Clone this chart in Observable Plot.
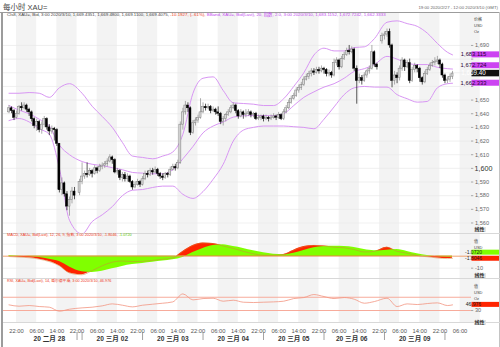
<!DOCTYPE html>
<html><head><meta charset="utf-8">
<script src="https://cdn.jsdelivr.net/npm/d3@7"></script>
<script src="https://cdn.jsdelivr.net/npm/@observablehq/plot@0.6"></script>
<style>
html,body{margin:0;padding:0;background:#fff;}
#wrap{position:relative;width:500px;height:347px;overflow:hidden;background:#fff;font-family:"Liberation Sans","Noto Sans CJK SC",sans-serif;}
#wrap > *{position:absolute;}
.lbl{white-space:nowrap;line-height:1;}
</style></head><body><div id="wrap"></div>
<script>
// ---------- DATA ----------
const titleText = "每小时 XAU=";
const rangeText = "19:00 2020/2/27 - 12:00 2020/3/10 (GMT)";
const sessionStarts = ["2020-02-27T19:00Z", "2020-03-01T23:00Z", "2020-03-08T23:00Z"];
const sessionBars = [27, 119, 29];
const sessionOpens = [1641, 1582, 1693];

const close = [
 1644,1642,1637,1640,1645,1644,1646,1643,1641,1636,1631,1634,1628,1632,1636,1630,1627,1629,1628,1618,1584,1589,1581,1572,1577,1583,1580,
 1590,1594,1596,1595,1598,1596,1600,1598,1601,1602,
 1603,1605,1608,1606,1597,1598,1593,1595,1592,1594,
 1590,1586,1588,1590,1588,1592,1596,1595,1598,1597,
 1599,1596,1594,1593,1596,1595,1599,1601,1600,1604,
 1632,1641,1646,1644,1626,1633,1635,1637,1641,1645,
 1644,1645,1642,1643,1641,1640,1634,1636,1639,1641,
 1644,1646,1642,1638,1641,1639,1640,1641,1639,1640,
 1636,1637,1638,1636,1637,1636,1637,1638,1637,1639,
 1636,1641,1644,1648,1651,1653,1657,1659,1661,1665,
 1667,1669,1671,1670,1672,1671,1673,1672,1669,1670,
 1668,1677,1679,1674,1680,1683,1686,1685,1687,1673,
 1664,1666,1664,1668,1671,1673,1685,1676,1674,
 1697,1698,1700,1690,1664,1668,1666,1673,1679,1674,
 1677,1664,1672,1675,1673,1666,1663,1669,1672,1675,
 1677,1678,1679,1676,1668,1664,1665,1667,1669.4
];
const high = [
 1646,1645,1643,1642,1646,1648,1648,1647,1644,1642,1637,1636,1635,1634,1638,1637,1632,1631,1630,1629,1618,1593,1590,1583,1579,1586,1586,
 1592,1604,1598,1604,1600,1599,1602,1601,1603,1604,
 1605,1607,1610,1609,1607,1600,1599,1597,1597,1596,
 1595,1591,1590,1592,1591,1594,1598,1598,1600,1600,
 1601,1600,1597,1596,1597,1597,1601,1603,1603,1606,
 1634,1644,1649,1648,1645,1635,1637,1639,1651,1648,
 1647,1647,1646,1645,1644,1645,1641,1638,1640,1643,
 1646,1648,1647,1643,1643,1642,1643,1643,1642,1641,
 1641,1639,1639,1639,1639,1638,1639,1640,1639,1641,
 1640,1643,1646,1650,1653,1655,1659,1661,1663,1667,
 1669,1671,1673,1673,1674,1674,1675,1674,1673,1672,
 1671,1680,1681,1680,1682,1685,1688,1690,1689,1688,
 1675,1669,1668,1670,1672,1675,1690,1686,1677,
 1699,1700,1702,1702,1691,1671,1670,1675,1681,1680,
 1679,1680,1674,1677,1676,1674,1667,1671,1674,1677,
 1679,1681,1682,1680,1677,1669,1667,1669,1671
];
const low = [
 1640,1640,1635,1636,1639,1642,1643,1641,1638,1634,1629,1627,1626,1625,1630,1628,1624,1625,1620,1616,1582,1580,1579,1569,1565,1574,1577,
 1580,1588,1592,1593,1594,1593,1595,1596,1597,1599,
 1600,1601,1604,1603,1596,1595,1591,1590,1590,1590,
 1589,1584,1585,1587,1586,1587,1591,1593,1594,1595,
 1596,1594,1592,1591,1592,1593,1594,1598,1598,1599,
 1603,1628,1639,1641,1624,1625,1631,1633,1636,1640,
 1642,1643,1640,1641,1639,1638,1632,1631,1634,1638,
 1640,1643,1640,1636,1637,1636,1637,1638,1637,1637,
 1635,1635,1635,1634,1635,1634,1635,1636,1635,1636,
 1635,1635,1640,1643,1647,1650,1652,1655,1657,1660,
 1664,1665,1667,1668,1669,1669,1670,1669,1667,1667,
 1666,1667,1675,1672,1673,1679,1682,1683,1684,1671,
 1647,1662,1661,1663,1666,1669,1672,1674,1672,
 1691,1694,1696,1688,1659,1661,1662,1664,1671,1671,
 1673,1662,1663,1670,1670,1663,1661,1662,1668,1671,
 1674,1675,1676,1673,1666,1662,1662,1663,1665
];

// indicator readings, one every 4th bar plus the last bar
const bbUpper = [1655,1655,1655.5,1655,1652,1659,1662,1655,1645.5,1638,1630,1619,1609,1608,1607,1609,1612,1625,1655,1666,1667,1657,1648,1647.5,1647,1646,1646,1651,1660,1670,1683,1688,1686,1686,1688.5,1689,1695,1707,1708,1706,1704,1699,1691.5,1685,1683.115];
const bbMid = [1646,1642.6,1640,1636,1631,1617,1610,1605,1603,1602,1600.5,1599,1597,1596.5,1596,1596,1599,1607,1616,1626,1631,1634,1637.5,1638.5,1638.7,1638.7,1638.5,1640,1646,1652,1656,1659.5,1662,1666,1671,1673,1676,1682,1680,1677,1676,1676,1674,1673,1672.724];
const bbLower = [1635,1636.5,1634,1629,1625,1600,1562,1552,1561,1566,1572,1580,1584,1584.5,1586,1587,1587,1581,1578,1583,1592,1603,1620,1628,1630,1631,1631,1631,1630.5,1630,1629,1636,1645,1654,1659,1660,1659.5,1659.5,1654,1651,1648.5,1649,1659,1662,1662.333];
const macdLine = [-0.3,-0.8,-1.3,-2.5,-4.5,-8,-14,-15.5,-12,-8,-5,-4,-4.5,-4.3,-3.5,-2.5,-1.5,4,9,11,10.5,8.5,6.5,4,2,0.8,0.8,1.5,5,8,9,8.5,7.5,7,5.5,3.5,4,7.5,4,2.5,0.5,-0.5,-1.5,-2,-1.8046];
const macdSignal = [0.5,0.2,-0.3,-1.2,-2.5,-4.5,-9,-13,-13.5,-12.5,-10.5,-8.5,-7,-6,-5,-4,-3,-1,3,6.5,9,9.5,8,6.5,4.5,2.8,1.6,1.2,2.5,4.8,7,8,8.2,8,7.2,5.5,4.5,5,5.5,4,2,0.5,-0.3,-0.9,-1.072];
const rsiLine = [47,43,45,42,40,28,34,38,40,44,50,46,41,46,49,52,56,80,62,66,67,58,61,55,54,55,56,58,66,69,78,72,66,69,64,52,57,67,42,50,48,51,53,45,46.976];

const dayDates = ["2020-02-28","2020-03-02","2020-03-03","2020-03-04","2020-03-05","2020-03-06","2020-03-09"];
const dayLabels = ["20 二月 28","20 三月 02","20 三月 03","20 三月 04","20 三月 05","20 三月 06","20 三月 09"];
const sepTimes = ["2020-02-28T22:00Z","2020-03-02T00:00Z","2020-03-03T00:00Z","2020-03-04T00:00Z","2020-03-05T00:00Z","2020-03-06T00:00Z","2020-03-09T00:00Z","2020-03-10T00:00Z"];
const priceTicks = [1560,1570,1580,1590,1600,1610,1620,1630,1640,1650,1660,1670,1680,1690];

const legendMain = ["Cls8, XAU=, Bid, 3:00 2020/3/10, 1,669.4351, 1,669.4800, 1,669.1100, 1,669.4075, ", "-10.1927, (-.61%), ", "BBand, XAU=, Bid(Last), 20, 指数, 2.0, 3:00 2020/3/10, 1,683.1152, 1,672.7242, 1,662.3333"];
const legendMacd = ["MACD, XAU=, Bid(Last), 12, 26, 9, 指数, 3:00 2020/3/10, -1.8046, ", "-1.0720"];
const legendRsi = "RSI, XAU=, Bid(Last), 14, 威尔德平滑, 3:00 2020/3/10, 46.976";

// ---------- BUILD ----------
const FONT = '"Liberation Sans","Noto Sans CJK SC",sans-serif';
const wrap = document.getElementById("wrap");
function addDiv(css, html){const d=document.createElement("div");d.className="lbl";d.style.cssText=css;d.innerHTML=html;wrap.appendChild(d);return d;}

const HOUR = 3600e3;
const sessions = sessionStarts.map((s,i)=>({t0:new Date(s), n:sessionBars[i], open:sessionOpens[i]}));
let acc = 0; for (const s of sessions){ s.slot0 = acc; acc += s.n + 1; }
function sessionOf(t){ let r=null, idx=-1; sessions.forEach((s,i)=>{ if (t >= +s.t0){ r=s; idx=i; } }); return [r, idx]; }
function slotOf(t){ t=+new Date(t); const [s,i]=sessionOf(t); const v=s.slot0+(t-s.t0)/HOUR; return i===sessions.length-1 ? v : Math.min(v, s.slot0+s.n); }
function inSession(t){ const [s,i]=sessionOf(t); if(!s) return false; return i===sessions.length-1 || (t-s.t0)/HOUR <= s.n; }

const bars=[]; let k=0;
for (const s of sessions) for (let j=0;j<s.n;j++,k++){
  const o = j===0 ? s.open : close[k-1];
  bars.push({slot:s.slot0+j, o, h:high[k], l:low[k], c:close[k], up: close[k] >= o});
}
const sampleIdx = d3.range(0, bars.length-1, 4).concat([bars.length-1]);
const ind = sampleIdx.map((b,i)=>({slot:bars[b].slot, upper:bbUpper[i], mid:bbMid[i], lower:bbLower[i], macd:macdLine[i], signal:macdSignal[i], rsi:rsiLine[i]}));

const fmtH = d3.utcFormat("%H:%M");
const tickTimes = d3.range(Date.UTC(2020,1,27,22), Date.UTC(2020,2,10,7), 8*HOUR).filter(inSession).map(t=>({slot:slotOf(t), label:fmtH(new Date(t))}));
const shade = tickTimes.map((d,i)=>({x1:d.slot, x2: i+1<tickTimes.length ? tickTimes[i+1].slot : d.slot+8})).filter((d,i)=>i%2===0);
const days = dayDates.map((d,i)=>{const a=new Date(d+"T00:00Z"); const b=new Date(+a+24*HOUR); return {slot:(slotOf(a)+slotOf(b))/2, label:dayLabels[i]};});
const seps = sepTimes.map(t=>({slot:slotOf(t)}));

const XD = [-2.18, 183.53];
const YMAIN = [1552.3, 1713.4];
const common = {width:500, marginLeft:3, marginRight:29, marginTop:0, marginBottom:0,
  x:{domain:XD, axis:null}, style:{background:"transparent", fontFamily:FONT, overflow:"visible"}};
const bandColor = "#d896f3";
const fmtP = d3.format(",");
const bodyEnd = d => Math.abs(d.c-d.o) < 0.5 ? d.o + 0.5 : d.c;

// price boxes on the right axis (values from the data), used to hide the tick labels they cover
const mainBoxes = [
  {value:bbUpper[bbUpper.length-1], label:"1,683.115", bg:"#cc44f2", fg:"#2a0033", h:6, fs:5.8},
  {value:bbMid[bbMid.length-1], label:"1,672.724", bg:"#cc44f2", fg:"#2a0033", h:6, fs:5.8, shift:-3.3},
  {value:close[close.length-1], label:"1,669.40", bg:"#111", fg:"#fff", h:6.5, fs:6.3},
  {value:bbLower[bbLower.length-1], label:"1,662.333", bg:"#cc44f2", fg:"#2a0033", h:6, fs:5.8}
];
const yMainPx = v => 220*(YMAIN[1]-v)/(YMAIN[1]-YMAIN[0]);
const visibleTicks = priceTicks.filter(v => !mainBoxes.some(b => Math.abs(yMainPx(v) - (yMainPx(b.value)+(b.shift||0))) < b.h/2 + 2.2));

const mainPlot = Plot.plot({...common, height:220, y:{domain:YMAIN, axis:null}, marks:[
  Plot.rect(shade, {x1:"x1", x2:"x2", fill:"#f3f3f3"}),
  Plot.ruleY(priceTicks, {stroke:"#e9e9e9", strokeWidth:0.7}),
  Plot.line(ind, {x:"slot", y:"upper", stroke:bandColor, strokeWidth:1, curve:"monotone-x", clip:true}),
  Plot.line(ind, {x:"slot", y:"mid", stroke:bandColor, strokeWidth:1, curve:"monotone-x", clip:true}),
  Plot.line(ind, {x:"slot", y:"lower", stroke:bandColor, strokeWidth:1, curve:"monotone-x", clip:true}),
  Plot.ruleX(bars.filter(d=>d.up), {x:"slot", y1:"l", y2:"h", stroke:"#8a8a8a", strokeWidth:0.7}),
  Plot.ruleX(bars.filter(d=>!d.up), {x:"slot", y1:"l", y2:"h", stroke:"#111", strokeWidth:0.7}),
  Plot.rect(bars.filter(d=>d.up), {x1:d=>d.slot-0.4, x2:d=>d.slot+0.4, y1:"o", y2:bodyEnd, fill:"#dadada", stroke:"#7a7a7a", strokeWidth:0.5}),
  Plot.rect(bars.filter(d=>!d.up), {x1:d=>d.slot-0.4, x2:d=>d.slot+0.4, y1:"o", y2:bodyEnd, fill:"#000", stroke:"#000", strokeWidth:0.5}),
  Plot.ruleY(priceTicks, {x1:XD[1], x2:XD[1]+0.9, stroke:"#888", strokeWidth:0.7}),
  Plot.text(visibleTicks.filter(v=>v!==1600), {x:XD[1], y:d=>d, text:fmtP, dx:3.5, textAnchor:"start", fontSize:5.6, fill:"#666"}),
  Plot.text(visibleTicks.filter(v=>v===1600), {x:XD[1], y:d=>d, text:fmtP, dx:3, textAnchor:"start", fontSize:7.2, fill:"#333"})
]});

const macdPlot = Plot.plot({...common, height:45, y:{domain:[-18.6,18.9], axis:null}, marks:[
  Plot.rect(shade, {x1:"x1", x2:"x2", fill:"#f3f3f3"}),
  Plot.ruleY([-10,10], {stroke:"#e9e9e9", strokeWidth:0.7}),
  Plot.areaY(ind, {x:"slot", y:"macd", fill:"#ff2400", curve:"monotone-x"}),
  Plot.areaY(ind, {x:"slot", y:"signal", fill:"#80ff00", curve:"monotone-x"}),
  Plot.ruleY([0], {stroke:"#ee8a4a", strokeWidth:0.8}),
  Plot.line(ind, {x:"slot", y:"macd", stroke:"#d2823a", strokeWidth:0.5, curve:"monotone-x"}),
  Plot.ruleY([-10], {x1:XD[1], x2:XD[1]+0.9, stroke:"#888", strokeWidth:0.7}),
  Plot.text([-10], {x:XD[1], y:d=>d, text:d=>String(d), dx:3.5, textAnchor:"start", fontSize:5.6, fill:"#666"})
]});

const rsiPlot = Plot.plot({...common, height:44, y:{domain:[-6,126.3], axis:null}, marks:[
  Plot.rect(shade, {x1:"x1", x2:"x2", fill:"#f3f3f3"}),
  Plot.ruleY([70,30], {stroke:"#f7ab9b", strokeWidth:1.1}),
  Plot.line(ind, {x:"slot", y:"rsi", stroke:"#f29480", strokeWidth:0.8, curve:"monotone-x"}),
  Plot.ruleY([30], {x1:XD[1], x2:XD[1]+0.9, stroke:"#888", strokeWidth:0.7}),
  Plot.text([30], {x:XD[1], y:d=>d, text:d=>String(d), dx:3.5, textAnchor:"start", fontSize:5.6, fill:"#666"})
]});

const axisPlot = Plot.plot({...common, height:25, marks:[
  Plot.text(tickTimes, {x:"slot", text:"label", frameAnchor:"top", dy:6, fontSize:5.8, fill:"#555"}),
  Plot.text(days, {x:"slot", text:"label", frameAnchor:"top", dy:14, fontSize:6.6, fontWeight:"bold", fill:"#333"}),
  Plot.ruleX(seps, {x:"slot", stroke:"#8a8a8a", strokeWidth:0.8, insetTop:10, insetBottom:7})
]});

function place(el, top){ el.style.position="absolute"; el.style.left="0px"; el.style.top=top+"px"; wrap.appendChild(el); }
place(mainPlot, 13); place(macdPlot, 233); place(rsiPlot, 278); place(axisPlot, 322);

function addBoxes(plot, items){
  const sc = plot.scale("y");
  const y = d3.scaleLinear(sc.domain, sc.range);
  const svg = d3.select(plot);
  for (const it of items){
    const cy = y(it.value) + (it.shift||0);
    svg.append("rect").attr("x",471.5).attr("y",cy-it.h/2).attr("width",30).attr("height",it.h).attr("fill",it.bg);
    svg.append("text").attr("x",473.5).attr("y",cy).attr("dy","0.36em").attr("font-size",it.fs).attr("font-family",FONT)
      .attr("font-weight",it.bold?"bold":"normal").attr("fill",it.fg).text(it.label);
  }
}
addBoxes(mainPlot, mainBoxes);
addBoxes(macdPlot, [
  {value:macdSignal[macdSignal.length-1], label:"-1.0720", bg:"#80ff00", fg:"#222", h:5, fs:5, shift:-4.8},
  {value:macdLine[macdLine.length-1], label:"-1.8046", bg:"#ff2400", fg:"#222", h:5, fs:5, shift:0.4}
]);
addBoxes(rsiPlot, [
  {value:rsiLine[rsiLine.length-1], label:"46.976", bg:"#ff2400", fg:"#222", h:5, fs:5}
]);

// frame & separators
addDiv("left:0;top:12px;width:500px;height:1px;background:#9c9c9c;","");
addDiv("left:1px;top:12px;width:2px;height:335px;background:#9c9c9c;","");
addDiv("left:499px;top:12px;width:1px;height:335px;background:#c4c4c4;","");
[233,278,322].forEach(y=>addDiv(`left:3px;top:${y}px;width:497px;height:1px;background:#d8d8d8;`,""));

// texts
addDiv("left:3px;top:3.5px;font-size:7.5px;color:#444;", titleText);
addDiv("right:2px;top:5.8px;font-size:4.3px;color:#666;", rangeText);
addDiv("left:7px;top:12.6px;font-size:4.4px;", `<span style="color:#444">${legendMain[0]}</span><span style="color:#ee3a22">${legendMain[1]}</span><span style="color:#c248f0">${legendMain[2]}</span>`);
addDiv("left:7px;top:234.2px;font-size:3.8px;", `<span style="color:#ee3a22">${legendMacd[0]}</span><span style="color:#5cc400">${legendMacd[1]}</span>`);
addDiv("left:7px;top:280.2px;font-size:3.8px;color:#ee3a22;", legendRsi);
[["价格",18],["USD",24.3],["Oz",30.3]].forEach(([t,y])=>addDiv(`left:474px;top:${y}px;font-size:4px;color:#444;`, t));
[["值",239.6],["USD",245.8]].forEach(([t,y])=>addDiv(`left:474px;top:${y}px;font-size:4px;color:#444;`, t));
[["值",284.6],["USD",291],["Oz",297]].forEach(([t,y])=>addDiv(`left:474px;top:${y}px;font-size:4px;color:#444;`, t));
[227.3,272.6,319.6].forEach(y=>addDiv(`left:473.5px;top:${y}px;font-size:5px;font-weight:bold;color:#333;background:#e4e4e4;padding:0 1px;`, "线性"));
</script></body></html>
